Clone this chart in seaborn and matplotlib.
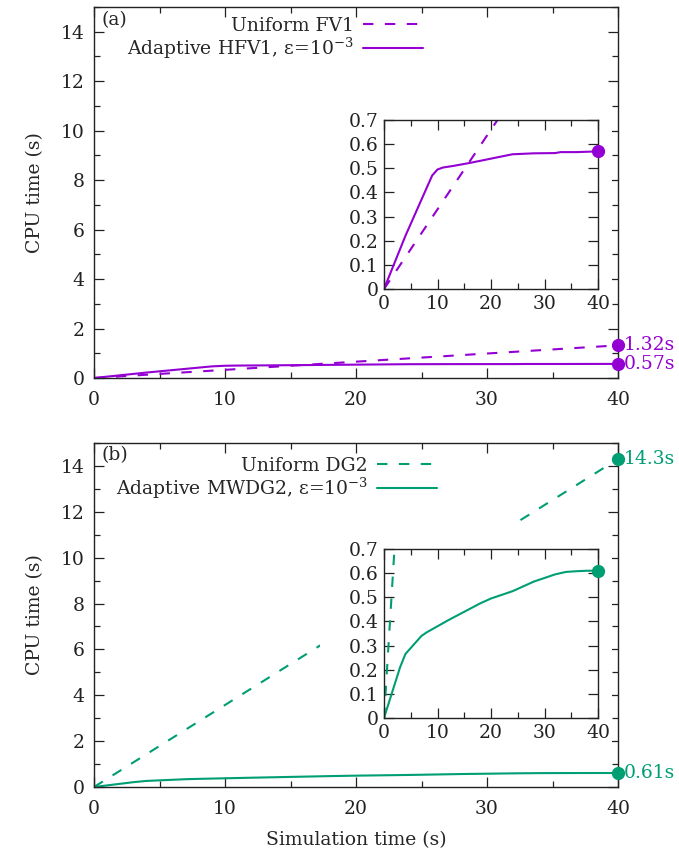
import numpy as np
import pandas as pd
import matplotlib
matplotlib.use("Agg")
import matplotlib.pyplot as plt
from matplotlib.patches import Rectangle
from matplotlib.ticker import MultipleLocator
import seaborn as sns

# ---- data -------------------------------------------------------------
uniform_t = [0, 40]
fv1_cpu = [0, 1.32]
dg2_cpu = [0, 14.3]

hfv1_t = [0, 2, 4, 6, 8, 9, 10, 11, 13, 16, 20, 24, 28, 32, 33, 36, 40]
hfv1_cpu = [0, 0.11, 0.22, 0.32, 0.42, 0.47, 0.495, 0.503, 0.51, 0.522,
            0.54, 0.558, 0.562, 0.563, 0.567, 0.567, 0.57]

mwdg2_t = [0, 1, 2, 3, 4, 5, 6, 7, 8, 10, 12, 15, 18, 20, 22, 24, 26, 28,
           30, 32, 34, 36, 38, 40]
mwdg2_cpu = [0, 0.07, 0.14, 0.21, 0.265, 0.29, 0.315, 0.34, 0.355, 0.38,
             0.405, 0.44, 0.475, 0.495, 0.51, 0.525, 0.545, 0.565, 0.58,
             0.595, 0.605, 0.608, 0.61, 0.61]

end_labels_a = ["1.32s", "0.57s"]
end_labels_b = ["14.3s", "0.61s"]

PURPLE = "#9400D3"
GREEN = "#009E73"

sns.set_style("ticks")
plt.rcParams["font.family"] = ["DejaVu Serif"]
plt.rcParams["mathtext.fontset"] = "dejavuserif"
FS = 13.5
plt.rcParams["font.size"] = FS

fig = plt.figure(figsize=(6.79, 8.56), dpi=100)

W, H = 679.0, 856.0
DASH = (0, (5, 5.5))


def fig_rect(left, top, right, bottom):
    return [left / W, 1 - bottom / H, (right - left) / W, (bottom - top) / H]


def style_axes(ax, xmaj, xmin, ymaj, ymin):
    ax.xaxis.set_major_locator(MultipleLocator(xmaj))
    ax.xaxis.set_minor_locator(MultipleLocator(xmin))
    ax.yaxis.set_major_locator(MultipleLocator(ymaj))
    ax.yaxis.set_minor_locator(MultipleLocator(ymin))
    ax.tick_params(which="both", direction="in", top=True, right=True,
                   colors="#222222", labelcolor="#222222", labelsize=FS)
    ax.tick_params(which="major", length=7, width=0.9, pad=7)
    ax.tick_params(which="minor", length=4, width=0.9)
    for s in ax.spines.values():
        s.set_linewidth(1.0)
        s.set_color("#222222")


def panel(rect, inset_rect, cover_rect, t_ad, y_ad, y_uni, color,
          lab_uni, lab_ad, tag, labels, leg_anchor):
    ax = fig.add_axes(rect)
    ax.set_zorder(0)
    sns.lineplot(x=uniform_t, y=y_uni, ax=ax, color=color, lw=1.5,
                 linestyle=DASH, label=lab_uni)
    sns.lineplot(x=t_ad, y=y_ad, ax=ax, color=color, lw=1.5, label=lab_ad)
    ax.set_xlim(0, 40)
    ax.set_ylim(0, 15)
    style_axes(ax, 10, 5, 2, 1)
    ax.tick_params(axis="x", which="major", pad=9)
    ax.set_ylabel("CPU time (s)", fontsize=FS, labelpad=12)
    ax.set_xlabel("")
    ax.legend(loc="upper right", bbox_to_anchor=leg_anchor,
              frameon=False, markerfirst=False, handlelength=3.2,
              handletextpad=0.5, labelspacing=0.05, borderpad=0,
              borderaxespad=0, fontsize=FS)
    ax.text(0.015, 0.99, tag, transform=ax.transAxes, ha="left", va="top",
            fontsize=FS)
    for yv, txt in zip([y_uni[-1], y_ad[-1]], labels):
        ax.plot([40], [yv], "o", color=color, ms=8.5, clip_on=False,
                zorder=5)
        ax.annotate(txt, (40, yv), xytext=(4, 0), textcoords="offset points",
                    color=color, fontsize=FS, va="center", ha="left",
                    annotation_clip=False)

    # white backing behind the inset and its tick labels
    cover = Rectangle((cover_rect[0], cover_rect[1]), cover_rect[2],
                      cover_rect[3], transform=fig.transFigure,
                      facecolor="white", edgecolor="none", zorder=1)
    fig.add_artist(cover)

    axi = fig.add_axes(inset_rect)
    axi.set_zorder(2)
    sns.lineplot(x=uniform_t, y=y_uni, ax=axi, color=color, lw=1.5,
                 linestyle=DASH)
    sns.lineplot(x=t_ad, y=y_ad, ax=axi, color=color, lw=1.5)
    axi.plot([40], [y_ad[-1]], "o", color=color, ms=8.5, clip_on=False,
             zorder=5)
    axi.set_xlim(0, 40)
    axi.set_ylim(0, 0.7)
    style_axes(axi, 10, 5, 0.1, 0.1)
    axi.tick_params(which="major", pad=4)
    axi.set_yticks(np.arange(0, 0.71, 0.1))
    axi.set_yticklabels(["0"] + [f"{v:.1f}" for v in np.arange(0.1, 0.71, 0.1)])
    axi.set_xlabel("")
    axi.set_ylabel("")
    return ax


ax_a = panel(fig_rect(94, 7, 618, 378), fig_rect(384, 120, 598, 289),
             fig_rect(320, 92, 612, 316),
             hfv1_t, hfv1_cpu, fv1_cpu, PURPLE,
             "Uniform FV1", "Adaptive HFV1, ε=10$^{-3}$", "(a)",
             end_labels_a, (0.628, 0.974))

ax_b = panel(fig_rect(94, 443, 618, 787), fig_rect(384, 549, 598, 718),
             fig_rect(320, 521, 612, 745),
             mwdg2_t, mwdg2_cpu, dg2_cpu, GREEN,
             "Uniform DG2", "Adaptive MWDG2, ε=10$^{-3}$", "(b)",
             end_labels_b, (0.655, 0.960))
ax_b.set_xlabel("Simulation time (s)", fontsize=FS, labelpad=10)

fig.savefig("out.png", dpi=100)
